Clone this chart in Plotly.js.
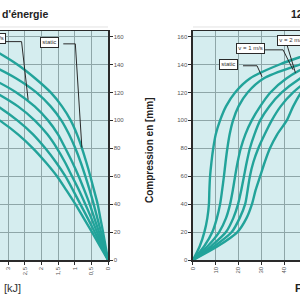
<!DOCTYPE html>
<html>
<head>
<meta charset="utf-8">
<script src="https://cdn.plot.ly/plotly-3.0.1.min.js"></script>
<style>
  html, body { margin: 0; padding: 0; overflow: hidden; background: #ffffff; }
  #chart { width: 300px; height: 300px; }
</style>
</head>
<body>
<div id="chart"></div>
<script>
// Compression levels shared by every curve [mm]
const compressionMm = [0, 10, 20, 30, 40, 50, 60, 70, 80, 90, 100, 110, 120, 130, 140, 150, 160];

// Absorbed energy [kJ] at each compression level (left panel)
const energyCurve1 = [0, 0.24, 0.48, 0.73, 0.98, 1.25, 1.53, 1.87, 2.25, 2.70, 3.25, 3.90, 4.70, 5.60, 6.60, 7.70, 8.90];
const energyCurve2 = [0, 0.20, 0.40, 0.61, 0.83, 1.05, 1.28, 1.56, 1.88, 2.25, 2.72, 3.30, 4.00, 4.90, 5.90, 7.00, 8.20];
const energyCurve3 = [0, 0.165, 0.33, 0.50, 0.68, 0.87, 1.08, 1.29, 1.53, 1.82, 2.20, 2.70, 3.38, 4.20, 5.20, 6.30, 7.50];
const energyCurve4 = [0, 0.135, 0.27, 0.41, 0.55, 0.71, 0.88, 1.07, 1.28, 1.50, 1.80, 2.20, 2.75, 3.50, 4.40, 5.40, 6.50];
const energyCurve5 = [0, 0.105, 0.21, 0.32, 0.43, 0.55, 0.68, 0.82, 0.98, 1.17, 1.40, 1.72, 2.15, 2.75, 3.55, 4.50, 5.60];
const energyCurve6 = [0, 0.075, 0.15, 0.23, 0.31, 0.42, 0.53, 0.65, 0.78, 0.93, 1.12, 1.38, 1.72, 2.18, 2.72, 3.40, 4.20];

// Reaction force [kN] at each compression level (right panel)
const forceCurve1 = [0, 3.0, 5.0, 6.3, 7.0, 7.2, 7.5, 8.1, 8.9, 10.0, 11.9, 14.5, 18.5, 25.0, 38.0, 56.0, 78.0];
const forceCurve2 = [0, 5.0, 8.5, 10.5, 11.9, 12.8, 13.6, 14.3, 15.1, 16.1, 17.6, 20.0, 24.0, 31.0, 47.0, 66.0, 90.0];
const forceCurve3 = [0, 6.5, 11.5, 14.5, 16.3, 17.5, 18.5, 19.6, 21.0, 23.0, 25.8, 29.5, 34.0, 41.0, 52.0, 68.0, 90.0];
const forceCurve4 = [0, 8.0, 14.5, 17.7, 19.8, 21.2, 22.4, 23.6, 25.0, 27.0, 29.5, 33.5, 39.0, 47.0, 58.0, 75.0, 98.0];
const forceCurve5 = [0, 9.5, 17.0, 20.5, 22.9, 24.0, 25.0, 26.5, 28.7, 31.5, 34.6, 38.5, 44.0, 52.0, 64.0, 82.0, 105.0];
const forceCurve6 = [0, 11.0, 19.5, 23.5, 25.9, 27.5, 29.5, 31.5, 33.8, 37.0, 41.2, 44.0, 47.5, 53.0, 63.0, 80.0, 102.0];

// Tick labels
const energyTicks = [3, 2.5, 2, 1.5, 1, 0.5, 0];
const energyTickText = ['3', '2,5', '2', '1,5', '1', '0,5', '0'];
const forceTicks = [0, 10, 20, 30, 40];
const compressionTicks = [0, 20, 40, 60, 80, 100, 120, 140, 160];

// Curve labels
const labelStatic = 'static';
const labelV1 = 'v = 1 m/s';
const labelV2 = 'v = 2 m/s';

const energySeries = [energyCurve1, energyCurve2, energyCurve3, energyCurve4, energyCurve5, energyCurve6];
const forceSeries = [forceCurve1, forceCurve2, forceCurve3, forceCurve4, forceCurve5, forceCurve6];

const TEAL = '#22a39a';
const INK = '#2a2a2a';
const GRID = '#8ea6a8';
const BG = '#d5edef';
const FONT = 'Liberation Sans, Arial, sans-serif';

const curveLine = { color: TEAL, width: 2.4, shape: 'spline', smoothing: 0.8 };

const traces = [];
energySeries.forEach(e => traces.push({
  type: 'scatter', mode: 'lines', x: e, y: compressionMm,
  xaxis: 'x', yaxis: 'y', line: curveLine, hoverinfo: 'skip'
}));
forceSeries.forEach(f => traces.push({
  type: 'scatter', mode: 'lines', x: f, y: compressionMm,
  xaxis: 'x2', yaxis: 'y2', line: curveLine, hoverinfo: 'skip'
}));

const axisStyle = {
  ticks: 'outside', ticklen: 3, tickwidth: 1, tickcolor: INK,
  tickfont: { family: FONT, size: 6, color: '#555555' },
  showgrid: true, gridcolor: GRID, gridwidth: 1,
  showline: true, linecolor: INK, linewidth: 1.5,
  zeroline: false, fixedrange: true
};

const boxStyle = {
  showarrow: false, bgcolor: '#ffffff', bordercolor: INK, borderwidth: 1, borderpad: 1.3,
  font: { family: FONT, size: 6, color: '#333333' }
};

const layout = {
  width: 300, height: 300,
  margin: { l: 0, r: 0, t: 31, b: 40, pad: 0 },
  paper_bgcolor: '#ffffff', plot_bgcolor: BG,
  showlegend: false,
  xaxis: Object.assign({}, axisStyle, {
    domain: [0, 0.36], range: [3.24, 0], anchor: 'y',
    tickmode: 'array', tickvals: energyTicks, ticktext: energyTickText, tickangle: -90,
    mirror: true
  }),
  yaxis: Object.assign({}, axisStyle, {
    domain: [0, 1], range: [0, 164], anchor: 'x', side: 'right',
    tickmode: 'array', tickvals: compressionTicks
  }),
  xaxis2: Object.assign({}, axisStyle, {
    domain: [0.6433, 1], range: [0, 47], anchor: 'y2',
    tickmode: 'array', tickvals: forceTicks, tickangle: -90,
    mirror: true
  }),
  yaxis2: Object.assign({}, axisStyle, {
    domain: [0, 1], range: [0, 164], anchor: 'x2', side: 'left',
    tickmode: 'array', tickvals: compressionTicks
  }),
  annotations: [
    { text: "<b>d'énergie</b>", xref: 'paper', yref: 'paper', x: 0, y: 1.074,
      xanchor: 'left', yanchor: 'middle', showarrow: false,
      font: { family: FONT, size: 10.5, color: '#222222' } },
    { text: '<b>12</b>', xref: 'paper', yref: 'paper', x: 0.962, y: 1.074,
      xanchor: 'left', yanchor: 'middle', showarrow: false,
      font: { family: FONT, size: 10.5, color: '#222222' } },
    { text: '[kJ]', xref: 'paper', yref: 'paper', x: 0.005, y: -0.122,
      xanchor: 'left', yanchor: 'middle', showarrow: false,
      font: { family: FONT, size: 11, color: '#333333' } },
    { text: '<b>F</b>', xref: 'paper', yref: 'paper', x: 0.975, y: -0.122,
      xanchor: 'left', yanchor: 'middle', showarrow: false,
      font: { family: FONT, size: 11, color: '#222222' } },
    { text: '<b>Compression en [mm]</b>', xref: 'paper', yref: 'paper', x: 0.4967, y: 0.48,
      xanchor: 'center', yanchor: 'middle', textangle: -90, showarrow: false,
      font: { family: FONT, size: 10, color: '#222222' } },
    Object.assign({}, boxStyle, { text: labelV2, xref: 'x', yref: 'y', x: 3.075, y: 158.4, xanchor: 'right', yanchor: 'middle' }),
    Object.assign({}, boxStyle, { text: labelStatic, xref: 'x', yref: 'y', x: 1.764, y: 155.5, xanchor: 'center', yanchor: 'middle' }),
    Object.assign({}, boxStyle, { text: labelStatic, xref: 'x2', yref: 'y2', x: 15.8, y: 140.1, xanchor: 'center', yanchor: 'middle' }),
    Object.assign({}, boxStyle, { text: labelV1, xref: 'x2', yref: 'y2', x: 25.05, y: 151.6, xanchor: 'center', yanchor: 'middle' }),
    Object.assign({}, boxStyle, { text: labelV2, xref: 'x2', yref: 'y2', x: 36.9, y: 156.9, xanchor: 'left', yanchor: 'middle' })
  ],
  shapes: [
    // faint rule under the panel headings
    { type: 'line', xref: 'paper', yref: 'paper', x0: 0, x1: 0.36, y0: 1.0175, y1: 1.0175,
      line: { color: '#e2e2e2', width: 1 } },
    { type: 'line', xref: 'paper', yref: 'paper', x0: 0.6433, x1: 1, y0: 1.0175, y1: 1.0175,
      line: { color: '#e2e2e2', width: 1 } },
    // leader lines from the labels to their curves
    { type: 'path', xref: 'x', yref: 'y', path: 'M 3.075,156.4 L 2.593,156.4 L 2.397,114.8',
      line: { color: INK, width: 1 } },
    { type: 'path', xref: 'x', yref: 'y', path: 'M 1.342,154.8 L 0.98,154.8 L 0.784,80.5',
      line: { color: INK, width: 1 } },
    { type: 'path', xref: 'x2', yref: 'y2', path: 'M 21.98,139.1 L 28.13,139.1 L 30.33,131.2',
      line: { color: INK, width: 1 } },
    { type: 'path', xref: 'x2', yref: 'y2', path: 'M 31.65,150.5 L 39.56,150.5 L 43.96,136.2',
      line: { color: INK, width: 1 } },
    { type: 'path', xref: 'x2', yref: 'y2', path: 'M 41.3,154 L 45,134',
      line: { color: INK, width: 1 } }
  ]
};

Plotly.newPlot('chart', traces, layout, { staticPlot: true, displayModeBar: false });
</script>
</body>
</html>
